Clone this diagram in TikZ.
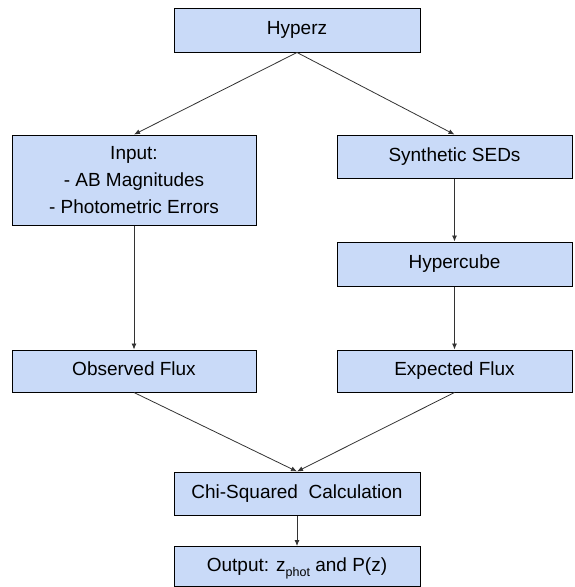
\documentclass[tikz,border=0pt]{standalone}
\usepackage{fontspec}
\setmainfont{Liberation Sans}
\usetikzlibrary{arrows.meta,positioning}
\definecolor{boxblue}{HTML}{C9DAF8}
\begin{document}
\begin{tikzpicture}[x=1pt,y=1pt,
    blk/.style={draw=black, line width=1pt, fill=boxblue, inner sep=0pt, align=center,
      font=\fontsize{19}{27}\selectfont, minimum height=44pt},
    oneline/.style={text height=13.6pt, text depth=4pt},
    lcol/.style={blk, minimum width=244pt},
    mcol/.style={blk, oneline, minimum width=246pt},
    rcol/.style={blk, oneline, minimum width=235pt},
    >={Latex[length=6pt,width=5pt]}]
            \useasboundingbox (0,0) rectangle (574,-587);
            \node[mcol] (H) at (297,-30) {Hyperz};
            \node[lcol, minimum height=90pt] (I) [node distance=150pt, below of=H, xshift=-163pt] {Input:\\- AB Magnitudes\\- Photometric Errors};
            \node[rcol, minimum height=43pt] (S) [node distance=126.5pt, below of=H, xshift=157.5pt] {Synthetic SEDs};
            \node[rcol] (C) [node distance=107.5pt, below of=S] {Hypercube};
            \node[lcol, oneline, minimum height=42pt] (O) [node distance=191pt, below of=I] {Observed Flux};
            \node[rcol, minimum height=42pt] (E) [node distance=107pt, below of=C] {Expected Flux};
            \node[mcol, minimum height=43pt] (X) [node distance=122.5pt, below of=O, xshift=163pt] {Chi-Squared\ \ Calculation};
            \node[mcol, minimum height=40pt] (P) [node distance=73pt, below of=X] {Output: z\raisebox{-5pt}{\fontsize{12.5}{12.5}\selectfont phot} and P(z)};
            \path[->, color=black!80, line width=.8pt]
                (H.south) edge (I.north)
                (H.south) edge (S.north)
                (S) edge (C)
                (I) edge (O)
                (C) edge (E)
                (O.south) edge (X.north)
                (E.south) edge (X.north)
                (X) edge (P);
        \end{tikzpicture}
\end{document}
